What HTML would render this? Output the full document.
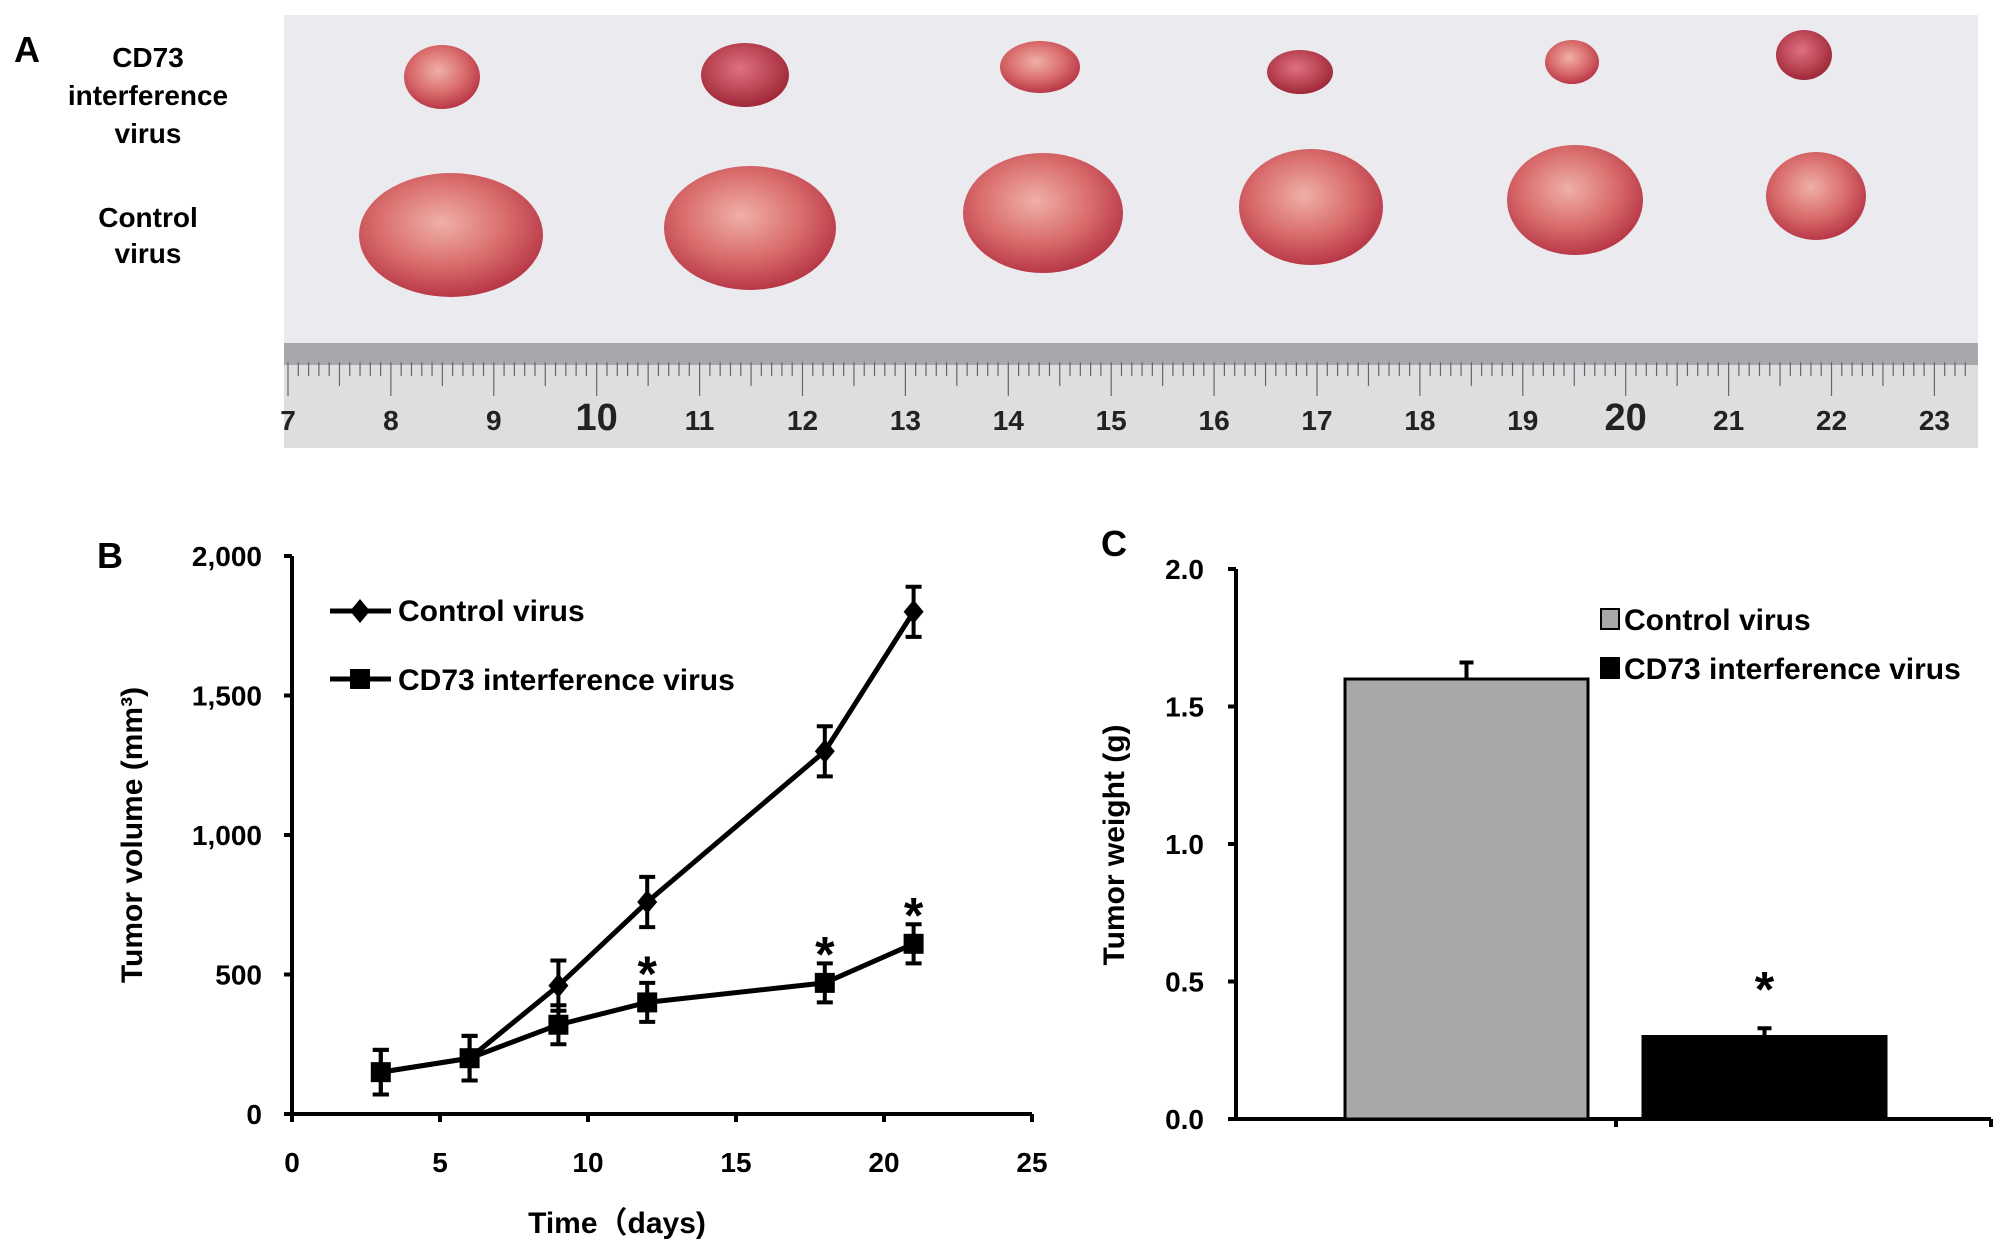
<!DOCTYPE html>
<html><head><meta charset="utf-8"><style>
html,body{margin:0;padding:0;background:#fff;}
svg{display:block;font-family:"Liberation Sans",sans-serif;font-weight:bold;}
</style></head><body>
<svg id="fig" width="2008" height="1250" viewBox="0 0 2008 1250" xmlns="http://www.w3.org/2000/svg">
<defs>
<radialGradient id="tum" cx="45%" cy="40%" r="60%"><stop offset="0" stop-color="#f0b0a8"/><stop offset="0.6" stop-color="#d86a6a"/><stop offset="1" stop-color="#b83848"/></radialGradient>
<radialGradient id="tum2" cx="45%" cy="40%" r="60%"><stop offset="0" stop-color="#e07080"/><stop offset="1" stop-color="#a02838"/></radialGradient>
</defs>
<text x="14" y="62" font-size="36" font-family="Liberation Sans, sans-serif">A</text>
<g font-family="Liberation Sans, sans-serif" font-size="28" text-anchor="middle">
<text x="148" y="67">CD73</text><text x="148" y="105">interference</text><text x="148" y="143">virus</text>
<text x="148" y="227">Control</text><text x="148" y="263">virus</text>
</g>
<g id="photo">
<rect x="284" y="15" width="1694" height="433" fill="#ebebef"/>
<rect x="284" y="343" width="1694" height="105" fill="#dedee1"/>
<rect x="284" y="343" width="1694" height="22" fill="#a8a8ac"/>
</g>
<g id="B"></g>
<g id="C"></g>
</svg>
<script>
// Panel A photo data
const topTumors=[[442,77,38,32],[745,75,44,32],[1040,67,40,26],[1300,72,33,22],[1572,62,27,22],[1804,55,28,25]];
const botTumors=[[451,235,92,62],[750,228,86,62],[1043,213,80,60],[1311,207,72,58],[1575,200,68,55],[1816,196,50,44]];
const rulerNums=["7","8","9","10","11","12","13","14","15","16","17","18","19","20","21","22","23"];
// Panel B data
const days=[3,6,9,12,18,21];
const controlVol=[150,200,460,760,1300,1800];
const controlErr=[80,80,90,90,90,90];
const cd73Vol=[150,200,320,400,470,610];
const cd73Err=[80,80,70,70,70,70];
const sigFlags=[false,false,false,true,true,true];
const bXTicks=[0,5,10,15,20,25];
const bYTicks=[0,500,1000,1500,2000];
const bYLabels=["0","500","1,000","1,500","2,000"];
// Panel C data
const groups=["Control virus","CD73 interference virus"];
const weights=[1.6,0.3];
const weightErr=[0.06,0.03];
const cYTicks=[0,0.5,1.0,1.5,2.0];
const cYLabels=["0.0","0.5","1.0","1.5","2.0"];

const NS="http://www.w3.org/2000/svg";
function mk(parent,tag,attrs,text){const e=document.createElementNS(NS,tag);for(const k in attrs)e.setAttribute(k,attrs[k]);if(text!==undefined)e.textContent=text;parent.appendChild(e);return e;}

// photo
const photo=document.getElementById('photo');
topTumors.forEach((t,i)=>{const e=mk(photo,'ellipse',{cx:t[0],cy:t[1],rx:t[2],ry:t[3],fill:i%2?'url(#tum2)':'url(#tum)'});

});
botTumors.forEach((t,i)=>{const e=mk(photo,'ellipse',{cx:t[0],cy:t[1],rx:t[2],ry:t[3],fill:'url(#tum)'});

});
for(let i=0;i<=165;i++){const x=288+i*10.29;if(x>1975)break;const l=(i%10===0)?34:(i%5===0?24:14);
mk(photo,'line',{x1:x,y1:362,x2:x,y2:362+l,stroke:'#666','stroke-width':1.2});}
rulerNums.forEach((n,i)=>{const t=mk(photo,'text',{x:288+i*102.9,y:430,'font-size':(n==='10'||n==='20')?38:28,'text-anchor':'middle',fill:'#222','font-family':'Liberation Sans, sans-serif'},n);

});

// Panel B
const B=document.getElementById('B');
const bx=v=>292+v*(1032-292)/25, by=v=>1114-v*(558/2000);
const ax=mk(B,'path',{d:`M${bx(0)} ${by(2000)}V${by(0)}H${bx(25)}`,stroke:'#000','stroke-width':4,fill:'none'});


bYTicks.forEach((v,i)=>{mk(B,'line',{x1:bx(0)-8,x2:bx(0),y1:by(v),y2:by(v),stroke:'#000','stroke-width':4});
const t=mk(B,'text',{x:262,y:by(v)+10,'font-size':28,'text-anchor':'end'},bYLabels[i]);

});
bXTicks.forEach(v=>{mk(B,'line',{x1:bx(v),x2:bx(v),y1:by(0),y2:by(0)+8,stroke:'#000','stroke-width':4});
const t=mk(B,'text',{x:bx(v),y:1172,'font-size':28,'text-anchor':'middle'},String(v));

});
const xt=mk(B,'text',{x:617,y:1233,'font-size':30,'text-anchor':'middle','font-family':'Liberation Sans, Noto Sans CJK SC, sans-serif'},'Time（days)');


const yt=mk(B,'text',{x:0,y:0,'font-size':30,'text-anchor':'middle','font-family':'Liberation Sans, sans-serif',transform:'translate(142,835) rotate(-90)'},'Tumor volume (mm³)');


const bl=mk(B,'text',{x:97,y:568,'font-size':36,'font-family':'Liberation Sans, sans-serif'},'B');


function series(vals,errs,marker,name){
  const g=mk(B,'g',{});
  
  
  days.forEach((d,i)=>{const x=bx(d);mk(g,'path',{d:`M${x} ${by(vals[i]-errs[i])}V${by(vals[i]+errs[i])}M${x-8} ${by(vals[i]-errs[i])}h16M${x-8} ${by(vals[i]+errs[i])}h16`,stroke:'#000','stroke-width':4,fill:'none'});});
  mk(g,'polyline',{points:days.map((d,i)=>bx(d)+','+by(vals[i])).join(' '),stroke:'#000','stroke-width':5,fill:'none'});
  days.forEach((d,i)=>{const x=bx(d),y=by(vals[i]);
    const m=marker==='d'?mk(g,'path',{d:`M${x} ${y-12}L${x+10} ${y}L${x} ${y+12}L${x-10} ${y}Z`,fill:'#000'}):mk(g,'rect',{x:x-10,y:y-10,width:20,height:20,fill:'#000'});
    
    });
}
series(controlVol,controlErr,'d','control-series');
series(cd73Vol,cd73Err,'s','cd73-series');
days.forEach((d,i)=>{if(sigFlags[i]){const s=mk(B,'text',{x:bx(d),y:by(cd73Vol[i]+cd73Err[i])+8,'font-size':50,'text-anchor':'middle','font-family':'Liberation Sans, sans-serif'},'*');

}});
// legend B
const lg=mk(B,'g',{});


mk(lg,'line',{x1:330,x2:391,y1:611,y2:611,stroke:'#000','stroke-width':5});
mk(lg,'path',{d:'M360 599L370 611L360 623L350 611Z',fill:'#000'});
mk(lg,'text',{x:398,y:621,'font-size':30},'Control virus');
mk(lg,'line',{x1:330,x2:391,y1:679,y2:679,stroke:'#000','stroke-width':5});
mk(lg,'rect',{x:350,y:669,width:20,height:20,fill:'#000'});
mk(lg,'text',{x:398,y:690,'font-size':30},'CD73 interference virus');

// Panel C
const C=document.getElementById('C');
const cy=v=>1119-v*275;
const cax=mk(C,'path',{d:`M1236 ${cy(2)}V${cy(0)}H1991`,stroke:'#000','stroke-width':4,fill:'none'});


[1616,1991].forEach(x=>mk(C,'line',{x1:x,x2:x,y1:cy(0),y2:cy(0)+8,stroke:'#000','stroke-width':4}));
cYTicks.forEach((v,i)=>{mk(C,'line',{x1:1228,x2:1236,y1:cy(v),y2:cy(v),stroke:'#000','stroke-width':4});
const t=mk(C,'text',{x:1204,y:cy(v)+10,'font-size':28,'text-anchor':'end'},cYLabels[i]);

});
const cyt=mk(C,'text',{x:0,y:0,'font-size':30,'text-anchor':'middle','font-family':'Liberation Sans, sans-serif',transform:'translate(1124,845) rotate(-90)'},'Tumor weight (g)');


const cl=mk(C,'text',{x:1101,y:556,'font-size':36,'font-family':'Liberation Sans, sans-serif'},'C');


const barX=[1345,1643], barW=243, fills=['#a8a8a8','#000'];
weights.forEach((w,i)=>{
  const x=barX[i];
  mk(C,'path',{d:`M${x+barW/2} ${cy(w)}V${cy(w+weightErr[i])}M${x+barW/2-7} ${cy(w+weightErr[i])}h14`,stroke:'#000','stroke-width':4});
  const r=mk(C,'rect',{x:x,y:cy(w),width:barW,height:cy(0)-cy(w),fill:fills[i],stroke:'#000','stroke-width':3});
  
  
});
const cs=mk(C,'text',{x:barX[1]+barW/2,y:cy(weights[1]+weightErr[1])-22,'font-size':50,'text-anchor':'middle','font-family':'Liberation Sans, sans-serif'},'*');


const cl2=mk(C,'g',{});


groups.forEach((g,i)=>{const y=619+i*49;
  mk(cl2,'rect',{x:1601,y:y-10,width:18,height:20,fill:fills[i],stroke:'#000','stroke-width':2});
  mk(cl2,'text',{x:1624,y:y+11,'font-size':30},g);});
</script>
</body></html>
